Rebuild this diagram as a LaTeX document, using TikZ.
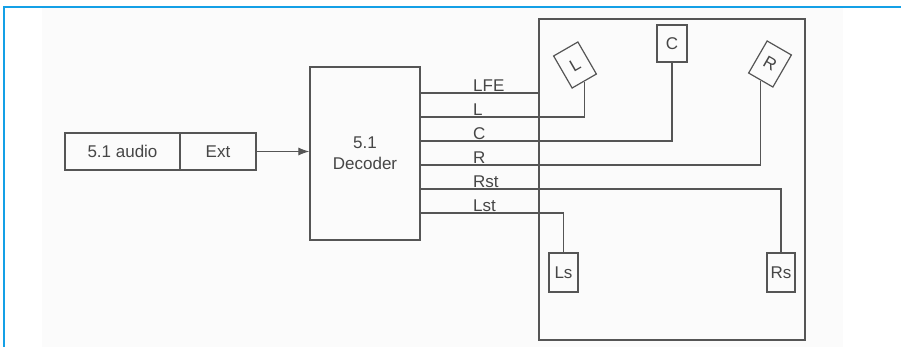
\documentclass[tikz,border=0pt]{standalone}
\usepackage{fontspec}
\setmainfont{Liberation Sans}
\usepackage{tikz}
\usetikzlibrary{arrows.meta, positioning, calc}
\definecolor{wire}{RGB}{85, 85, 85}
\definecolor{inkgray}{RGB}{70, 70, 70}
\definecolor{framebl}{RGB}{20, 160, 230}
\definecolor{paper}{RGB}{251, 251, 251}

\begin{document}
\begin{tikzpicture}[
  x=1pt, y=-1pt,
  blk/.style={draw=wire, line width=1.2pt, inner sep=0pt, align=center, text=inkgray, font=\fontsize{17}{20}\selectfont},
  spk/.style={blk, minimum width=28pt, minimum height=37pt},
  chlabel/.style={anchor=south west, inner sep=1pt, text=inkgray, font=\fontsize{17}{20}\selectfont},
  wireline/.style={draw=wire, line width=1.1pt}
]
  \useasboundingbox (0,0) rectangle (901,347);
  \fill[paper] (42,8) rectangle (843,347);
  \draw[framebl, line width=1.3pt] (4,347) -- (4,7) -- (901,7);

  % source and decoder
  \node[blk, minimum width=115pt, minimum height=37pt] (audio) at (122.5,151.5) {5.1 audio};
  \node[blk, minimum width=76pt, minimum height=37pt] (ext) at (218,151.5) {Ext};
  \node[blk, minimum width=110pt, minimum height=173pt] (dec) at (365,153.5) {5.1\\[1pt]Decoder};
  \draw[wireline, -{Latex[length=11pt, width=8pt]}] (ext.east) -- (ext.east -| dec.west);

  % listening room
  \node[blk, minimum width=266pt, minimum height=321pt] (room) at (672,179.5) {};
  \node[spk, rotate=30] (spL) at (575,65) {L};
  \node[spk, minimum width=30pt] (spC) at (672,43.5) {C};
  \node[spk, rotate=-30] (spR) at (770,64) {R};
  \node[spk, minimum width=29pt, minimum height=39pt] (spLs) at (563.5,272.5) {Ls};
  \node[spk, minimum height=39pt] (spRs) at (781,272.5) {Rs};

  % channel outputs
  \foreach \n/\yy/\txt in {lfe/93/LFE, l/117/L, c/141/C, r/165/R, rst/189/Rst, lst/213/Lst} {
    \coordinate (o\n) at (420,\yy);
    \node[chlabel] (lab\n) at (472,\yy) {\txt};
  }
  \draw[wireline] (olfe) -- (olfe -| room.west);
  \draw[wireline] (ol) -| (spL.south);
  \draw[wireline] (oc) -| (spC.south);
  \draw[wireline] (or) -| (spR.south);
  \draw[wireline] (orst) -| (spRs.north);
  \draw[wireline] (olst) -| (spLs.north);
\end{tikzpicture}
\end{document}
